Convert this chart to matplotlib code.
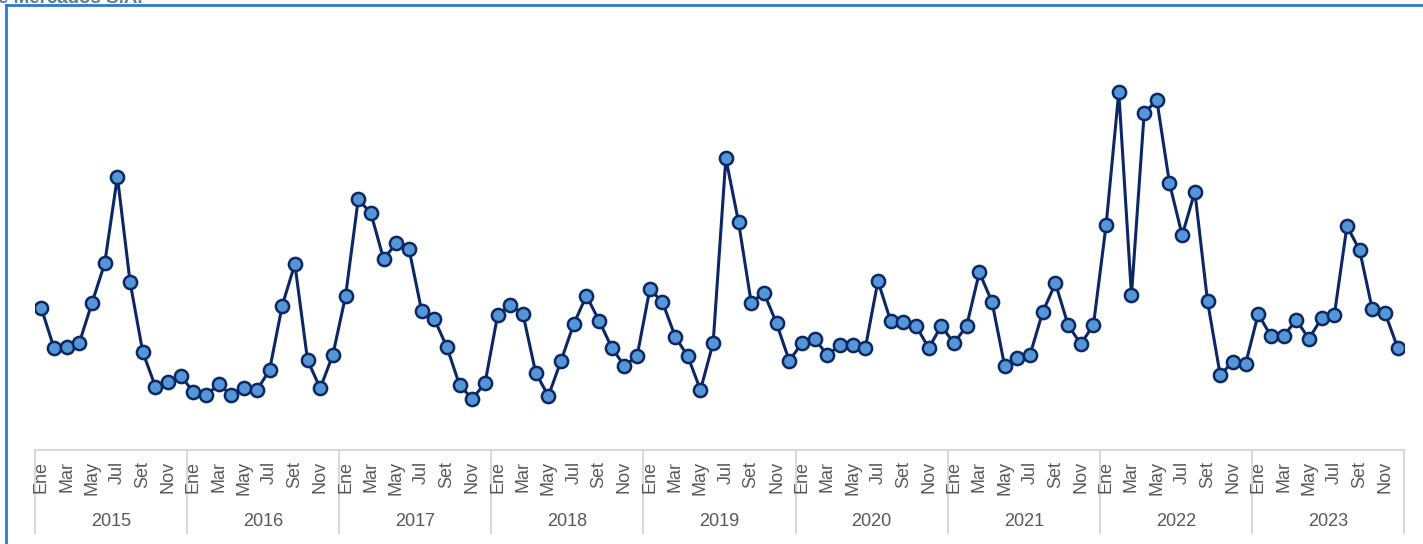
import numpy as np
import matplotlib
matplotlib.use("Agg")
import matplotlib.pyplot as plt
import matplotlib.transforms as mtransforms
from matplotlib.lines import Line2D

plt.rcParams['font.family'] = ['Liberation Sans', 'DejaVu Sans']

# Serie mensual (unidades relativas)
years = ['2015', '2016', '2017', '2018', '2019', '2020', '2021', '2022', '2023']
months = ['Ene', 'Feb', 'Mar', 'Abr', 'May', 'Jun', 'Jul', 'Ago', 'Set', 'Oct', 'Nov', 'Dic']
v2015 = [141.7, 102.0, 102.7, 107.3, 147.3, 186.7, 273.3, 168.0, 98.0, 63.3, 68.3, 74.0]
v2016 = [58.0, 55.0, 65.7, 54.7, 62.3, 60.0, 79.7, 144.3, 186.0, 90.0, 61.7, 95.3]
v2017 = [154.0, 250.7, 236.7, 191.0, 206.7, 201.3, 139.3, 131.0, 102.7, 64.7, 51.3, 66.7]
v2018 = [135.0, 145.0, 135.7, 77.3, 54.0, 89.3, 126.0, 154.3, 129.3, 102.3, 84.0, 94.0]
v2019 = [160.7, 148.0, 113.5, 93.7, 60.0, 107.3, 291.7, 228.0, 147.3, 157.3, 126.7, 89.3]
v2020 = [106.7, 111.3, 95.0, 104.7, 105.3, 101.7, 169.0, 129.0, 128.0, 124.3, 102.0, 124.0]
v2021 = [106.7, 124.3, 177.7, 148.0, 83.8, 91.7, 95.3, 138.0, 166.7, 125.0, 106.0, 125.0]
v2022 = [225.0, 358.0, 154.7, 336.7, 350.0, 266.7, 214.7, 258.3, 148.7, 75.0, 88.3, 86.0]
v2023 = [136.0, 114.0, 114.0, 130.0, 111.3, 131.7, 134.7, 224.0, 199.7, 140.7, 137.3, 102.3]

values = np.array(v2015 + v2016 + v2017 + v2018 + v2019 + v2020 + v2021 + v2022 + v2023)
n = len(values)
x = np.arange(n) + 0.5

W, H = 1423, 544
fig = plt.figure(figsize=(W / 100, H / 100), dpi=100)
ax = fig.add_axes([35 / W, (H - 450) / H, 1369 / W, 440 / H])

ax.plot(x, values, color='#0b2765', lw=2.2, marker='o', ms=9.5,
        mfc='#5596d6', mec='#0b2765', mew=1.8, zorder=3)

ax.set_xlim(0, n)
ax.set_ylim(0, 440)
ax.set_yticks([])
for s in ['top', 'right', 'left']:
    ax.spines[s].set_visible(False)
ax.spines['bottom'].set_color('#d9d9d9')
ax.spines['bottom'].set_linewidth(1.5)

# etiquetas de meses (cada dos meses)
ticks = [i + 0.5 for i in range(n) if i % 2 == 0]
labels = [months[i % 12] for i in range(n) if i % 2 == 0]
ax.set_xticks(ticks)
ax.set_xticklabels(labels, rotation=90, fontsize=13, color='#595959')
ax.tick_params(axis='x', length=0, pad=8)

# separadores y etiquetas de anios
trans = mtransforms.blended_transform_factory(ax.transData, ax.transAxes)
sep_bottom = -83 / 440
for k in range(len(years) + 1):
    ax.plot([k * 12, k * 12], [0, sep_bottom], transform=trans,
            color='#d9d9d9', lw=1.5, clip_on=False, zorder=0.5)
for k, yr in enumerate(years):
    ax.text(k * 12 + 6, -71 / 440, yr, transform=trans, ha='center', va='center',
            fontsize=13, color='#595959')

# marco azul y titulo recortado arriba (como en el original)
fig.add_artist(Line2D([6 / W, 6 / W], [0, 1 - 5 / H], color='#2b7bc9', lw=2))
fig.add_artist(Line2D([6 / W, 1], [1 - 5 / H, 1 - 5 / H], color='#2b7bc9', lw=2))
fig.text(-2 / W, 1 - 3 / H, 'e Mercados S.A.', ha='left', va='baseline',
         fontsize=13.5, fontweight='bold', color='#5b7c99')

fig.savefig('out.png', dpi=100)
